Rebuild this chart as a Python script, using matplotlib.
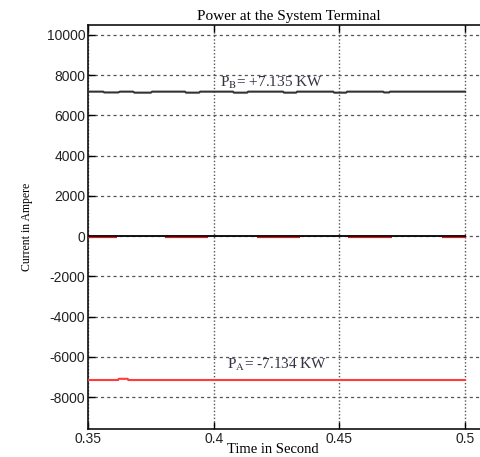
import matplotlib
matplotlib.use("Agg")
import matplotlib.pyplot as plt
import numpy as np

plt.rcParams["axes.unicode_minus"] = False
plt.rcParams["mathtext.fontset"] = "stix"

# Data
pb_t = [0.350, 0.356, 0.3565, 0.362, 0.3627, 0.3679, 0.3685, 0.375, 0.3755, 0.3886, 0.389,
        0.3942, 0.3946, 0.4077, 0.408, 0.4133, 0.4137, 0.4276, 0.428, 0.4328, 0.4332,
        0.4475, 0.448, 0.4527, 0.4531, 0.4674, 0.4678, 0.4698, 0.4702, 0.500]
pb_v = [7180, 7180, 7140, 7140, 7180, 7180, 7130, 7130, 7180, 7180, 7130,
        7130, 7180, 7180, 7130, 7130, 7180, 7180, 7130, 7130, 7180,
        7180, 7130, 7130, 7180, 7180, 7140, 7140, 7180, 7180]

pa_t = [0.350, 0.362, 0.3622, 0.3658, 0.366, 0.500]
pa_v = [-7150, -7150, -7090, -7090, -7150, -7150]

# near-zero traces
zero_black_t = [0.350, 0.500]
zero_black_v = [20, 20]
zero_red_segments = [(0.350, 0.3615), (0.3807, 0.3978), (0.4173, 0.4344),
                     (0.4535, 0.4710), (0.4909, 0.5005)]
zero_red_v = -60

xticks = [0.35, 0.4, 0.45, 0.5]
xtick_labels = ["0.35", "0.4", "0.45", "0.5"]
yticks = [-8000, -6000, -4000, -2000, 0, 2000, 4000, 6000, 8000, 10000]

fig = plt.figure(figsize=(4.81, 4.57), dpi=100)
ax = fig.add_axes([0.183, 0.061, 0.836, 0.884])

for (a, b) in zero_red_segments:
    ax.plot([a, b], [zero_red_v, zero_red_v], color="#e8141a", lw=1.6, zorder=3,
            solid_capstyle="butt")
ax.plot(zero_black_t, zero_black_v, color="#111111", lw=1.4, zorder=4)

ax.plot(pb_t, pb_v, color="#333333", lw=1.5, zorder=4)
ax.plot(pa_t, pa_v, color="#ff3b3b", lw=1.5, zorder=4)

ax.set_xlim(0.35, 0.51)
ax.set_ylim(-9590, 10485)
ax.set_xticks(xticks)
ax.set_xticklabels(xtick_labels)
ax.set_yticks(yticks)

for lab in ax.get_xticklabels() + ax.get_yticklabels():
    lab.set_fontfamily("Liberation Sans")
    lab.set_fontsize(10)
    lab.set_color("#222222")

ax.tick_params(direction="in", top=True, right=True, length=5, width=1, pad=2)

ax.yaxis.grid(True, linestyle=(0, (2.5, 2.5)), color="#555555", lw=0.9)
ax.xaxis.grid(True, linestyle=(0, (1, 1.5)), color="#555555", lw=1.0)
ax.set_axisbelow(True)

for s in ax.spines.values():
    s.set_linewidth(1.2)
    s.set_color("#111111")

ax.set_title("Power at the System Terminal", family="Liberation Serif", fontsize=11, pad=4)
fig.text(0.568, 0.003, "Time in Second", family="Liberation Serif", fontsize=10.5,
         ha="center", va="bottom")
ax.set_ylabel("Current in Ampere", family="Liberation Serif", fontsize=8.5, labelpad=10)

ax.text(0.4025, 7600, r"P$_{\mathrm{B}}$= +7.135 KW", family="Liberation Serif",
        fontsize=11, color="#333344", va="center", ha="left", zorder=5)
ax.text(0.4053, -6400, r"P$_{\mathrm{A}}$= -7.134 KW", family="Liberation Serif",
        fontsize=11, color="#333344", va="center", ha="left", zorder=5)

fig.savefig("out.png", dpi=100)
